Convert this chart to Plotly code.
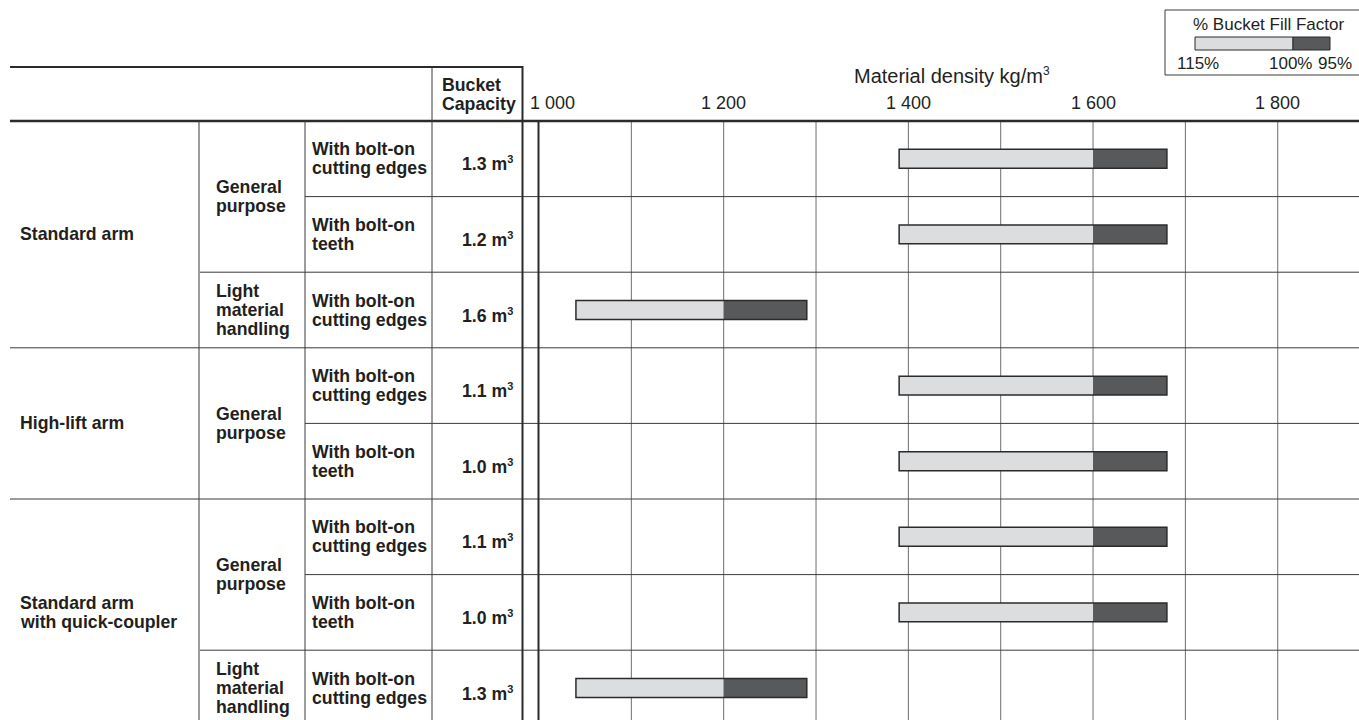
import plotly.graph_objects as go

# ---------------- data ----------------
arm_labels = ["Standard arm", "High-lift arm", "Standard arm|with quick-coupler"]
arm_spans = [(0, 2), (3, 4), (5, 7)]
purpose_labels = ["General|purpose", "Light|material|handling", "General|purpose",
                  "General|purpose", "Light|material|handling"]
purpose_spans = [(0, 1), (2, 2), (3, 4), (5, 6), (7, 7)]
edge_labels = ["With bolt-on|cutting edges", "With bolt-on|teeth", "With bolt-on|cutting edges",
               "With bolt-on|cutting edges", "With bolt-on|teeth",
               "With bolt-on|cutting edges", "With bolt-on|teeth", "With bolt-on|cutting edges"]
capacity = ["1.3", "1.2", "1.6", "1.1", "1.0", "1.1", "1.0", "1.3"]
density_115 = [1390, 1390, 1040, 1390, 1390, 1390, 1390, 1040]
density_100 = [1600, 1600, 1200, 1600, 1600, 1600, 1600, 1200]
density_95 = [1680, 1680, 1290, 1680, 1680, 1680, 1680, 1290]
tick_vals = [1000, 1200, 1400, 1600, 1800]
tick_text = ["1 000", "1 200", "1 400", "1 600", "1 800"]
grid_vals = [1100, 1200, 1300, 1400, 1500, 1600, 1700, 1800]
legend_labels = ["115%", "100%", "95%"]

W, H = 1359, 720
rows = list(range(len(capacity)))

def px(x):
    return x / W

def py(y):
    return 1 - y / H

LIGHT = "#dcdddf"
DARK = "#58595b"
LINE = "#2b2b2b"
FONT = "Liberation Sans, Arial, Helvetica, sans-serif"
BOLD_SIZE = 17.7

fig = go.Figure()
fig.add_trace(go.Bar(
    y=rows, base=density_115, x=[b - a for a, b in zip(density_115, density_100)],
    orientation="h", width=0.25, marker=dict(color=LIGHT, line=dict(width=0)),
    showlegend=False, hoverinfo="skip"))
fig.add_trace(go.Bar(
    y=rows, base=density_100, x=[b - a for a, b in zip(density_100, density_95)],
    orientation="h", width=0.25, marker=dict(color=DARK, line=dict(width=0)),
    showlegend=False, hoverinfo="skip"))
fig.add_trace(go.Bar(
    y=rows, base=density_115, x=[b - a for a, b in zip(density_115, density_95)],
    orientation="h", width=0.25,
    marker=dict(color="rgba(0,0,0,0)", line=dict(width=1.5, color=LINE)),
    showlegend=False, hoverinfo="skip"))

shapes = []
annotations = []

# vertical grid lines
for g in grid_vals:
    shapes.append(dict(type="line", xref="x", yref="paper", x0=g, x1=g,
                       y0=0, y1=py(121), line=dict(color="#6e6e6e", width=1), layer="below"))

# row separator lines
arm_bounds = {e for s, e in arm_spans}
purpose_bounds = {e for s, e in purpose_spans}
for i in rows[:-1]:
    if i in arm_bounds:
        x0 = 10
    elif i in purpose_bounds:
        x0 = 200
    else:
        x0 = 305
    shapes.append(dict(type="line", xref="paper", yref="y", x0=px(x0), x1=1,
                       y0=i + 0.5, y1=i + 0.5, line=dict(color="#3a3a3a", width=1)))

# table frame
shapes += [
    dict(type="line", xref="paper", yref="paper", x0=px(10), x1=px(523), y0=py(67), y1=py(67),
         line=dict(color=LINE, width=2)),
    dict(type="line", xref="paper", yref="paper", x0=px(10), x1=1, y0=py(121), y1=py(121),
         line=dict(color=LINE, width=2.5)),
    dict(type="line", xref="paper", yref="paper", x0=px(522.5), x1=px(522.5), y0=py(66), y1=0,
         line=dict(color=LINE, width=2)),
    dict(type="line", xref="paper", yref="paper", x0=px(538.5), x1=px(538.5), y0=py(121), y1=0,
         line=dict(color=LINE, width=2)),
    dict(type="line", xref="paper", yref="paper", x0=px(432), x1=px(432), y0=py(67), y1=0,
         line=dict(color="#3a3a3a", width=1)),
    dict(type="line", xref="paper", yref="paper", x0=px(305), x1=px(305), y0=py(121), y1=0,
         line=dict(color="#3a3a3a", width=1)),
    dict(type="line", xref="paper", yref="paper", x0=px(199), x1=px(199), y0=py(121), y1=0,
         line=dict(color="#3a3a3a", width=1)),
]

# legend box
shapes += [
    dict(type="rect", xref="paper", yref="paper", x0=px(1165), x1=px(1365), y0=py(75), y1=py(10),
         line=dict(color="#3a3a3a", width=1)),
    dict(type="rect", xref="paper", yref="paper", x0=px(1195), x1=px(1293), y0=py(50), y1=py(37),
         fillcolor=LIGHT, line=dict(color=LINE, width=1)),
    dict(type="rect", xref="paper", yref="paper", x0=px(1293), x1=px(1330), y0=py(50), y1=py(37),
         fillcolor=DARK, line=dict(color=LINE, width=1)),
]

def add_lines(text, x, ycenter, size, bold=True, xanchor="left", yshift0=0, spacing=19):
    parts = text.split("|")
    n = len(parts)
    for k, p in enumerate(parts):
        annotations.append(dict(
            xref="paper", yref="y", x=px(x), y=ycenter,
            text=f"<b>{p}</b>" if bold else p, showarrow=False,
            xanchor=xanchor, yanchor="middle",
            yshift=yshift0 - (k - (n - 1) / 2) * spacing,
            font=dict(family=FONT, size=size, color="#231f20")))

for lab, (s, e) in zip(arm_labels, arm_spans):
    add_lines(lab, 18, (s + e) / 2, BOLD_SIZE)
for lab, (s, e) in zip(purpose_labels, purpose_spans):
    add_lines(lab, 214, (s + e) / 2, BOLD_SIZE)
for i, lab in enumerate(edge_labels):
    add_lines(lab, 310, i, BOLD_SIZE)
for i, c in enumerate(capacity):
    annotations.append(dict(
        xref="paper", yref="y", x=px(515), y=i, yshift=-5,
        text=f"<b>{c} m<sup><span style='font-size:11px'>3</span></sup></b>",
        showarrow=False, xanchor="right", yanchor="middle",
        font=dict(family=FONT, size=BOLD_SIZE, color="#231f20")))

# header text
for k, t in enumerate(["Bucket", "Capacity"]):
    annotations.append(dict(
        xref="paper", yref="paper", x=px(440), y=py(85 + 19 * k),
        text=f"<b>{t}</b>", showarrow=False, xanchor="left", yanchor="middle",
        font=dict(family=FONT, size=BOLD_SIZE, color="#231f20")))

annotations.append(dict(
    xref="paper", yref="paper", x=px(952), y=py(76),
    text="Material density kg/m<sup><span style='font-size:12px'>3</span></sup>",
    showarrow=False, xanchor="center", yanchor="middle",
    font=dict(family=FONT, size=20, color="#231f20")))

for v, t in zip(tick_vals, tick_text):
    annotations.append(dict(
        xref="x", yref="paper", x=v, y=py(103), text=t, showarrow=False,
        xanchor="left" if v == tick_vals[0] else "center", yanchor="middle",
        xshift=-11 if v == tick_vals[0] else 0,
        font=dict(family=FONT, size=18, color="#231f20")))

# legend text
annotations.append(dict(
    xref="paper", yref="paper", x=px(1268), y=py(25), text="% Bucket Fill Factor",
    showarrow=False, xanchor="center", yanchor="middle",
    font=dict(family=FONT, size=17, color="#231f20")))
for t, xc in zip(legend_labels, [1198, 1290, 1335]):
    annotations.append(dict(
        xref="paper", yref="paper", x=px(xc), y=py(63), text=t,
        showarrow=False, xanchor="center", yanchor="middle",
        font=dict(family=FONT, size=17, color="#231f20")))

row_h = 75.6
plot_top = 121
span = (H - plot_top) / row_h

fig.update_layout(
    width=W, height=H,
    margin=dict(l=0, r=0, t=0, b=0),
    paper_bgcolor="white", plot_bgcolor="white",
    barmode="overlay", showlegend=False,
    xaxis=dict(domain=[px(539), 1], range=[1000, 1000 + (W - 539) / 0.9234],
               showgrid=False, zeroline=False, showticklabels=False, ticks="", showline=False),
    yaxis=dict(domain=[0, py(plot_top)], range=[-0.5 + span, -0.5],
               showgrid=False, zeroline=False, showticklabels=False, ticks="", showline=False),
    shapes=shapes, annotations=annotations,
)

fig.write_html(
    "out.html",
    config={"displayModeBar": False},
    post_script="document.body.style.margin='0';document.body.style.overflow='hidden';",
)
